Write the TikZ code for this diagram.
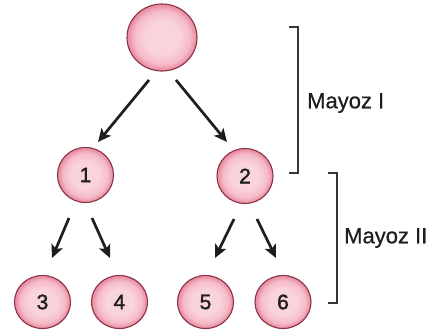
\documentclass[tikz,border=0pt]{standalone}
\usepackage{fontspec}
\setmainfont{Liberation Sans}
\newfontfamily\numfont{Liberation Sans}[FakeBold=1.6]
\newfontfamily\lblfont{Liberation Sans}[FakeBold=0.6]
\usetikzlibrary{shapes.geometric,arrows.meta}
\definecolor{cellin}{HTML}{FAD4DD}
\definecolor{cellmid}{HTML}{F5BBC8}
\definecolor{cellout}{HTML}{EA8FA4}
\definecolor{cellrim}{HTML}{8A3344}
\definecolor{ink}{HTML}{1E1E1E}
\pgfdeclareradialshading{cellshade}{\pgfpoint{0bp}{0bp}}{%
  color(0bp)=(cellin); color(12bp)=(cellin); color(20bp)=(cellmid);
  color(24bp)=(cellout); color(50bp)=(cellout)}
\tikzset{
  cell/.style={ellipse, inner sep=0pt, draw=cellrim, line width=1.1pt,
    shading=cellshade, text=ink,
    font=\numfont\fontsize{21}{24}\selectfont},
  bigcell/.style={cell, minimum width=70pt, minimum height=67pt},
  midcell/.style={cell, minimum width=56pt, minimum height=55pt},
  smallcell/.style={cell, minimum width=56pt, minimum height=53pt},
  arr/.style={-{Stealth[length=13pt,width=12pt,inset=3pt]}, line width=2.7pt, ink},
  brk/.style={line width=1.8pt, draw=ink!90},
  lbl/.style={anchor=west, inner sep=0pt, text=ink, font=\lblfont\fontsize{22}{26}\selectfont}
}
\begin{document}
\begin{tikzpicture}[x=1pt,y=-1pt]
\useasboundingbox (0,0) rectangle (436,331);
\node[bigcell] (top) at (162,37.5) {};
\node[midcell] (c1) at (85.5,175) {1};
\node[midcell] (c2) at (245,176) {2};
\node[smallcell] (c3) at (42.5,302) {3};
\node[smallcell] (c4) at (119.5,302) {4};
\node[smallcell] (c5) at (205.5,302) {5};
\node[smallcell] (c6) at (283,302) {6};
% arrow ends
\coordinate (a1s) at ([shift={(-13,42.5)}]top.center);
\coordinate (a1e) at ([shift={(12.5,-33)}]c1.center);
\coordinate (a2s) at ([shift={(14,42.5)}]top.center);
\coordinate (a2e) at ([shift={(-18,-34)}]c2.center);
\coordinate (a3s) at ([shift={(-16.5,43)}]c1.center);
\coordinate (a3e) at ([shift={(9.5,-44)}]c3.center);
\coordinate (a4s) at ([shift={(6.5,43)}]c1.center);
\coordinate (a4e) at ([shift={(-9.5,-44)}]c4.center);
\coordinate (a5s) at ([shift={(-11,43)}]c2.center);
\coordinate (a5e) at ([shift={(9.5,-44)}]c5.center);
\coordinate (a6s) at ([shift={(12,43)}]c2.center);
\coordinate (a6e) at ([shift={(-7,-44)}]c6.center);
\draw[arr] (a1s) -- (a1e);
\draw[arr] (a2s) -- (a2e);
\draw[arr] (a3s) -- (a3e);
\draw[arr] (a4s) -- (a4e);
\draw[arr] (a5s) -- (a5e);
\draw[arr] (a6s) -- (a6e);
% brackets
\draw[brk] (289,27) -- (298,27) -- (298,173) -- (289,173);
\draw[brk] (328,173) -- (337,173) -- (337,303) -- (328,303);
\node[lbl] (m1) at (307,103) {Mayoz I};
\node[lbl] (m2) at (344,238) {Mayoz II};
\end{tikzpicture}
\end{document}
